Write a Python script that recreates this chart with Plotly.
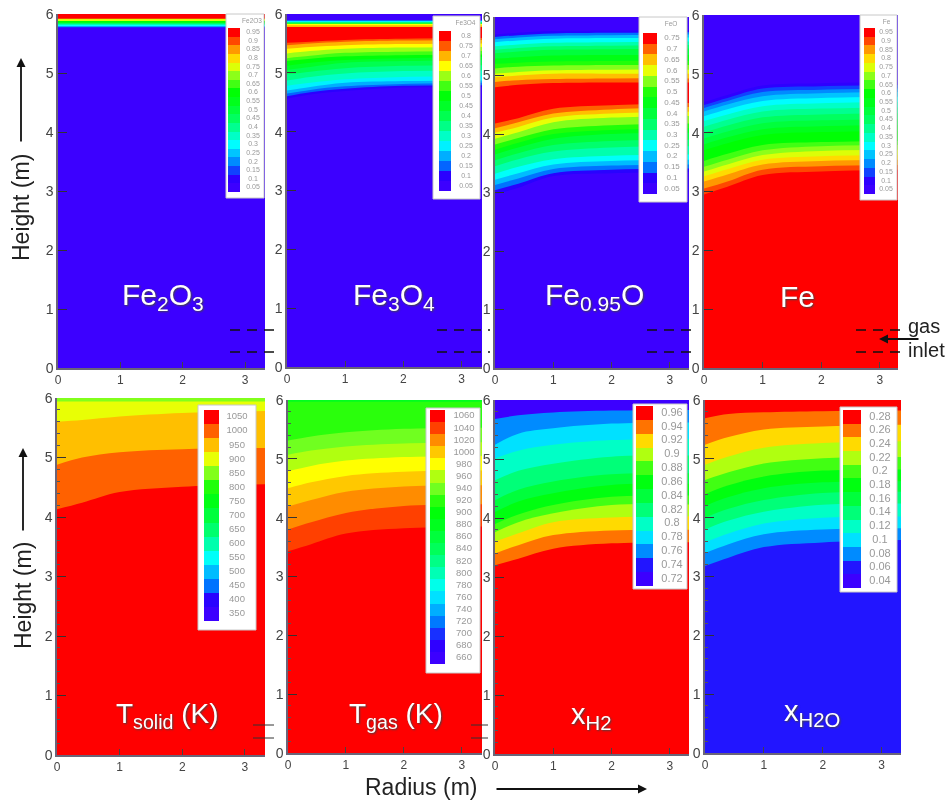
import plotly.graph_objects as go

W, H = 946, 800
RADIUS = [0, 0.4, 1.0, 2.0, 3.35]
X_TICKS = [0, 1, 2, 3]
Y_TICKS = [0, 1, 2, 3, 4, 5, 6]

FE2O3_LABELS = ["0.95","0.9","0.85","0.8","0.75","0.7","0.65","0.6","0.55","0.5","0.45","0.4","0.35","0.3","0.25","0.2","0.15","0.1","0.05"]
FE2O3_TOP = 0.95
FE2O3_VALUES = [0.75, 0.6, 0.45, 0.3, 0.15, 0.05]
FE2O3_HEIGHTS = [[5.92]*5, [5.88]*5, [5.85]*5, [5.82]*5, [5.79]*5, [5.77]*5]

FE3O4_LABELS = ["0.8","0.75","0.7","0.65","0.6","0.55","0.5","0.45","0.4","0.35","0.3","0.25","0.2","0.15","0.1","0.05"]
FE3O4_TOP = 0.05
FE3O4_VALUES = [0.15, 0.25, 0.4, 0.55, 0.65, 0.7, 0.8, 0.75, 0.7, 0.65, 0.6, 0.55, 0.5, 0.45, 0.4, 0.35, 0.3, 0.25, 0.2, 0.15, 0.1, 0.05]
FE3O4_HEIGHTS = [
    [5.90]*5, [5.88]*5, [5.86]*5, [5.84]*5, [5.83]*5, [5.81]*5, [5.78]*5,
    [5.51,5.53,5.56,5.58,5.59], [5.47,5.50,5.53,5.55,5.56], [5.41,5.44,5.47,5.49,5.50],
    [5.33,5.37,5.41,5.43,5.44], [5.25,5.29,5.34,5.36,5.37], [5.20,5.24,5.28,5.30,5.31],
    [5.12,5.17,5.22,5.25,5.27],
    [5.05,5.10,5.17,5.20,5.22], [4.97,5.02,5.08,5.12,5.13], [4.87,4.93,4.99,5.03,5.04],
    [4.78,4.83,4.89,4.93,4.94], [4.70,4.76,4.83,4.86,4.87], [4.65,4.71,4.77,4.81,4.83],
    [4.60,4.67,4.73,4.78,4.79], [4.56,4.63,4.69,4.75,4.76],
]

FEO_LABELS = ["0.75","0.7","0.65","0.6","0.55","0.5","0.45","0.4","0.35","0.3","0.25","0.2","0.15","0.1","0.05"]
FEO_TOP = 0.05
FEO_VALUES = [0.1,0.15,0.2,0.25,0.3,0.35,0.4,0.45,0.5,0.55,0.6,0.65,0.7,0.75, 0.7,0.65,0.6,0.55,0.5,0.45,0.4,0.35,0.3,0.25,0.2,0.15,0.1,0.05]
FEO_HEIGHTS = [
    [5.70,5.73,5.76,5.77,5.78],[5.66,5.69,5.72,5.73,5.74],[5.62,5.65,5.68,5.69,5.70],
    [5.57,5.60,5.63,5.64,5.65],[5.50,5.53,5.56,5.57,5.58],[5.44,5.47,5.50,5.51,5.52],
    [5.38,5.41,5.44,5.45,5.46],[5.29,5.31,5.34,5.35,5.35],
    [5.20,5.22,5.24,5.25,5.25],[5.12,5.15,5.17,5.18,5.18],[5.03,5.06,5.09,5.10,5.10],
    [4.97,5.00,5.03,5.03,5.03],[4.89,4.92,4.94,4.95,4.95],[4.80,4.84,4.87,4.88,4.88],
    [4.18,4.27,4.43,4.49,4.53],[4.10,4.20,4.35,4.42,4.46],[4.02,4.12,4.28,4.35,4.38],
    [3.92,4.03,4.20,4.28,4.31],[3.82,3.93,4.08,4.15,4.18],[3.73,3.85,4.00,4.07,4.10],
    [3.65,3.77,3.92,4.00,4.02],[3.55,3.67,3.81,3.88,3.90],
    [3.45,3.57,3.70,3.77,3.79],[3.32,3.44,3.57,3.63,3.65],[3.22,3.33,3.48,3.54,3.56],
    [3.13,3.24,3.40,3.46,3.48],[3.04,3.15,3.33,3.39,3.41],[2.97,3.08,3.28,3.33,3.35],
]

FE_LABELS = FE2O3_LABELS
FE_TOP = 0.05
FE_VALUES = [0.1,0.15,0.2,0.25,0.3,0.35,0.4,0.45,0.5,0.55,0.6,0.65,0.7,0.75,0.8,0.85,0.9,0.95]
FE_HEIGHTS = [
    [4.52,4.64,4.80,4.84,4.86],[4.47,4.59,4.75,4.79,4.81],[4.42,4.54,4.69,4.73,4.75],
    [4.36,4.48,4.62,4.67,4.69],[4.28,4.40,4.54,4.59,4.61],[4.20,4.31,4.45,4.50,4.52],
    [4.10,4.22,4.36,4.41,4.43],[4.00,4.12,4.26,4.31,4.33],[3.90,4.02,4.16,4.21,4.23],
    [3.80,3.92,4.06,4.11,4.13],[3.70,3.82,3.96,4.01,4.03],[3.52,3.64,3.79,3.84,3.86],
    [3.42,3.54,3.70,3.77,3.79],[3.34,3.46,3.62,3.69,3.71],[3.26,3.38,3.54,3.60,3.62],
    [3.17,3.29,3.46,3.52,3.54],[3.05,3.17,3.37,3.43,3.45],[2.95,3.08,3.28,3.34,3.37],
]

TSOLID_LABELS = ["1050","1000","950","900","850","800","750","700","650","600","550","500","450","400","350"]
TSOLID_TOP = 850
TSOLID_VALUES = [900, 950, 1000, 1050]
TSOLID_HEIGHTS = [
    [5.94]*5, [5.60,5.63,5.69,5.75,5.78], [4.88,5.00,5.09,5.14,5.16], [4.13,4.24,4.42,4.51,4.55],
]

TGAS_LABELS = ["1060","1040","1020","1000","980","960","940","920","900","880","860","840","820","800","780","760","740","720","700","680","660"]
TGAS_TOP = 880
TGAS_VALUES = [920, 940, 960, 980, 1000, 1020, 1040, 1060]
TGAS_HEIGHTS = [
    [5.97]*5, [5.31,5.38,5.45,5.51,5.53], [5.07,5.14,5.21,5.26,5.28], [4.79,4.88,4.97,5.03,5.05],
    [4.50,4.60,4.71,4.78,4.80], [4.19,4.30,4.44,4.53,4.55], [3.80,3.92,4.08,4.20,4.23], [3.43,3.55,3.73,3.82,3.85],
]

XH2_LABELS = ["0.96","0.94","0.92","0.9","0.88","0.86","0.84","0.82","0.8","0.78","0.76","0.74","0.72"]
XH2_TOP = 0.72
XH2_VALUES = [0.76,0.78,0.8,0.82,0.84,0.86,0.88,0.9,0.92,0.94,0.96]
XH2_HEIGHTS = [
    [5.68,5.74,5.79,5.82,5.83],[5.24,5.43,5.52,5.60,5.62],[5.01,5.14,5.24,5.32,5.34],
    [4.64,4.80,4.92,5.04,5.06],[4.30,4.48,4.62,4.74,4.76],[4.10,4.28,4.42,4.56,4.58],
    [3.90,4.06,4.22,4.36,4.38],[3.76,3.93,4.08,4.22,4.23],[3.60,3.74,3.93,4.01,4.03],
    [3.40,3.54,3.71,3.79,3.80],[3.20,3.31,3.48,3.57,3.59],
]

XH2O_LABELS = ["0.28","0.26","0.24","0.22","0.2","0.18","0.16","0.14","0.12","0.1","0.08","0.06","0.04"]
XH2O_TOP = 0.28
XH2O_VALUES = [0.26,0.24,0.22,0.2,0.18,0.16,0.14,0.12,0.1,0.08,0.06]
XH2O_HEIGHTS = [
    [5.69,5.76,5.79,5.81,5.82],[5.24,5.37,5.50,5.55,5.58],[4.90,5.04,5.19,5.27,5.30],
    [4.64,4.77,4.92,5.01,5.03],[4.40,4.55,4.70,4.80,4.82],[4.20,4.35,4.50,4.60,4.62],
    [4.00,4.15,4.30,4.42,4.44],[3.80,3.95,4.10,4.22,4.24],[3.58,3.73,3.90,4.00,4.02],
    [3.40,3.55,3.72,3.80,3.82],[3.18,3.32,3.50,3.58,3.62],
]

STOPS = [(0,(60,0,255)),(.07,(42,0,255)),(.14,(0,112,255)),(.21,(0,184,255)),(.28,(0,255,255)),
         (.36,(0,255,170)),(.45,(0,255,90)),(.55,(0,255,30)),(.62,(0,255,0)),(.7,(112,255,32)),
         (.75,(176,255,16)),(.8,(255,255,0)),(.85,(255,200,0)),(.9,(255,140,0)),(.95,(255,64,0)),(1,(255,0,0))]

def colour(t):
    t = max(0, min(1, t))
    for (a, ca), (b, cb) in zip(STOPS, STOPS[1:]):
        if t <= b:
            f = (t - a) / (b - a)
            return "rgb(%d,%d,%d)" % tuple(round(p + (q - p) * f) for p, q in zip(ca, cb))
    return "rgb(255,0,0)"

# geometry, page pixels: panel box, legend box, swatch box, name
PANELS = [
 dict(box=(58,265,14,368), xmax=3.32, labels=FE2O3_LABELS, top=FE2O3_TOP, vals=FE2O3_VALUES, hs=FE2O3_HEIGHTS,
      leg=(226,264,14,198), sw=(228,240,28,192), tx=253, name="Fe2O3", fs=7, ts=30, title="Fe<sub>2</sub>O<sub>3</sub>", tp=(163,296)),
 dict(box=(287,482,14,367), xmax=3.35, labels=FE3O4_LABELS, top=FE3O4_TOP, vals=FE3O4_VALUES, hs=FE3O4_HEIGHTS,
      leg=(433,480,16,199), sw=(439,451,31,191), tx=466, name="Fe3O4", fs=7, ts=30, title="Fe<sub>3</sub>O<sub>4</sub>", tp=(394,296)),
 dict(box=(495,689,17,368), xmax=3.33, labels=FEO_LABELS, top=FEO_TOP, vals=FEO_VALUES, hs=FEO_HEIGHTS,
      leg=(639,687,17,202), sw=(643,657,33,194), tx=672, name="FeO", fs=8, ts=30, title="Fe<sub>0.95</sub>O", tp=(594,296)),
 dict(box=(704,898,15,368), xmax=3.31, labels=FE_LABELS, top=FE_TOP, vals=FE_VALUES, hs=FE_HEIGHTS,
      leg=(860,897,15,200), sw=(864,875,28,194), tx=886, name="Fe", fs=7, ts=30, title="Fe", tp=(797,296)),
 dict(box=(57,265,398,755), xmax=3.32, labels=TSOLID_LABELS, top=TSOLID_TOP, vals=TSOLID_VALUES, hs=TSOLID_HEIGHTS,
      leg=(198,256,405,630), sw=(204,219,410,621), tx=237, name="", fs=9.5, ts=28, title="T<sub>solid</sub> (K)", tp=(167,715)),
 dict(box=(288,482,400,753), xmax=3.35, labels=TGAS_LABELS, top=TGAS_TOP, vals=TGAS_VALUES, hs=TGAS_HEIGHTS,
      leg=(426,480,408,673), sw=(430,445,410,664), tx=464, name="", fs=9.5, ts=28, title="T<sub>gas</sub> (K)", tp=(396,715)),
 dict(box=(495,689,400,754), xmax=3.33, labels=XH2_LABELS, top=XH2_TOP, vals=XH2_VALUES, hs=XH2_HEIGHTS,
      leg=(633,687,404,589), sw=(636,653,406,586), tx=672, name="", fs=11, ts=29, title="x<sub>H2</sub>", tp=(591,716)),
 dict(box=(705,901,400,753), xmax=3.33, labels=XH2O_LABELS, top=XH2O_TOP, vals=XH2O_VALUES, hs=XH2O_HEIGHTS,
      leg=(840,897,407,592), sw=(843,861,410,588), tx=880, name="", fs=11, ts=29, title="x<sub>H2O</sub>", tp=(812,713)),
]

FONT = "Liberation Sans, Arial, sans-serif"
fig = go.Figure()
layout = dict(width=W, height=H, margin=dict(l=0, r=0, t=0, b=0, autoexpand=False), paper_bgcolor="white", plot_bgcolor="white",
              showlegend=False, shapes=[], annotations=[])
px = lambda x: x / W
py = lambda y: 1 - y / H

for i, p in enumerate(PANELS):
    k = i + 1
    x0, x1, y0, y1 = p["box"]
    nums = [float(s) for s in p["labels"]]
    lo, hi = min(nums), max(nums)
    tof = lambda v: (v - lo) / (hi - lo)
    xa, ya = f"x{k}", f"y{k}"
    common = dict(x=RADIUS, mode="lines", line=dict(width=0, shape="spline", smoothing=1), fill="tozeroy",
                  hoverinfo="skip", xaxis=xa, yaxis=ya)
    fig.add_trace(go.Scatter(y=[6]*len(RADIUS), fillcolor=colour(tof(p["top"])), **common))
    for v, h in zip(p["vals"], p["hs"]):
        fig.add_trace(go.Scatter(y=h, fillcolor=colour(tof(v)), **common))
    layout[f"xaxis{k}"] = dict(domain=[px(x0), px(x1)], range=[0, p["xmax"]], anchor=ya, tickvals=X_TICKS,
                               ticks="inside", ticklen=6, tickcolor="#444", tickwidth=1.2, showgrid=False, zeroline=False,
                               showline=True, linecolor="#6a6478", linewidth=1.5, mirror=False,
                               tickfont=dict(family=FONT, size=12, color="#444"))
    layout[f"yaxis{k}"] = dict(domain=[py(y1), py(y0)], range=[0, 6], anchor=xa, tickvals=Y_TICKS,
                               ticks="inside", ticklen=9, tickcolor="#333", tickwidth=1.2, showgrid=False, zeroline=False,
                               showline=True, linecolor="#6a6478", linewidth=1.5,
                               tickfont=dict(family=FONT, size=14, color="#444"),
                               minor=dict(ticks="inside", ticklen=3, dtick=0.2, tickcolor="#555", tickwidth=1) if k > 4 else None)
    layout["annotations"].append(dict(x=px(p["tp"][0]), y=py(p["tp"][1]), xref="paper", yref="paper", text=p["title"],
                                      xanchor="center", yanchor="middle", showarrow=False,
                                      font=dict(family=FONT, size=p["ts"], color="white", shadow="1px 1px 2px #444")))

# legends drawn afterwards so that they lie over the panels
for i, p in enumerate(PANELS):
    k = i + 9
    lx0, lx1, ly0, ly1 = p["leg"]
    sx0, sx1, sy0, sy1 = p["sw"]
    nums = [float(s) for s in p["labels"]]
    lo, hi = min(nums), max(nums)
    n = len(nums)
    xa, ya = f"x{k}", f"y{k}"
    fig.add_trace(go.Heatmap(x=[lx0, lx1], y=[ly0, ly1], z=[[0]], zmin=0, zmax=1,
                             colorscale=[[0, "white"], [1, "white"]], showscale=False, hoverinfo="skip", xaxis=xa, yaxis=ya))
    step = (sy1 - sy0) / n
    edges = [sy0 + j * step for j in range(n + 1)]
    scale = []
    for j, v in enumerate(nums):
        c = colour((v - lo) / (hi - lo))
        scale += [[j / n, c], [(j + 1) / n, c]]
    fig.add_trace(go.Heatmap(x=[sx0, sx1], y=edges, z=[[j + 0.5] for j in range(n)], zmin=0, zmax=n, colorscale=scale,
                             showscale=False, hoverinfo="skip", xaxis=xa, yaxis=ya))
    centres = [(a + b) / 2 for a, b in zip(edges, edges[1:])]
    fig.add_trace(go.Scatter(x=[p["tx"]] * n, y=centres, mode="text", text=p["labels"], hoverinfo="skip",
                             textfont=dict(family=FONT, size=p["fs"], color="#999"), textposition="middle center",
                             xaxis=xa, yaxis=ya))
    if p["name"]:
        fig.add_trace(go.Scatter(x=[(lx1 + sx0) / 2 + 6], y=[ly0 + 7], mode="text", text=[p["name"]], hoverinfo="skip",
                                 textfont=dict(family=FONT, size=6.5, color="#999"), xaxis=xa, yaxis=ya))
    layout[f"xaxis{k}"] = dict(domain=[px(lx0), px(lx1)], range=[lx0, lx1], anchor=ya, visible=False, showgrid=False, zeroline=False)
    layout[f"yaxis{k}"] = dict(domain=[py(ly1), py(ly0)], range=[ly1, ly0], anchor=xa, visible=False, showgrid=False, zeroline=False)
    layout["shapes"].append(dict(type="rect", xref="paper", yref="paper", x0=px(lx0), x1=px(lx1), y0=py(ly1), y1=py(ly0),
                                 line=dict(color="#c8c8c8", width=1), layer="above"))

def hline(x0, x1, y, dash="solid", width=1.5, color="#111"):
    layout["shapes"].append(dict(type="line", xref="paper", yref="paper", x0=px(x0), x1=px(x1), y0=py(y), y1=py(y),
                                 line=dict(color=color, width=width, dash=dash), layer="above"))

for xa_, xb_ in [(230, 276), (437, 490), (647, 692), (856, 905)]:
    hline(xa_, xb_, 330, dash="10px,7px")
    hline(xa_, xb_, 352, dash="10px,7px")
for xa_, xb_ in [(253, 274), (471, 488)]:
    hline(xa_, xb_, 725, width=1, color="#333")
    hline(xa_, xb_, 738, width=1, color="#333")

def text(x, y, s, size=17, angle=0, color="#222"):
    layout["annotations"].append(dict(x=px(x), y=py(y), xref="paper", yref="paper", text=s, showarrow=False,
                                      xanchor="center", yanchor="middle",
                                      textangle=angle, font=dict(family=FONT, size=size, color=color)))

def arrow(xa_, ya_, xb_, yb_):
    layout["annotations"].append(dict(x=px(xb_), y=py(yb_), ax=xa_ - xb_, ay=ya_ - yb_, xref="paper", yref="paper",
                                      axref="pixel", ayref="pixel", text="", showarrow=True, arrowhead=2, arrowsize=1,
                                      arrowwidth=1.8, arrowcolor="#111"))

text(21, 208, "Height (m)", size=23, angle=-90)
text(23, 596, "Height (m)", size=23, angle=-90)
text(421, 787, "Radius (m)", size=23)
text(924, 326, "gas", size=20)
text(926, 350, "inlet", size=20)
arrow(21, 143, 21, 58)
arrow(23, 532, 23, 448)
arrow(495, 789, 647, 789)
arrow(920, 339, 879, 339)

fig.update_layout(**layout)
fig.write_html("out.html", config=dict(displayModeBar=False),
               post_script="document.body.style.margin='0';document.querySelector('.plot-container').style.filter='blur(0.6px)';")
